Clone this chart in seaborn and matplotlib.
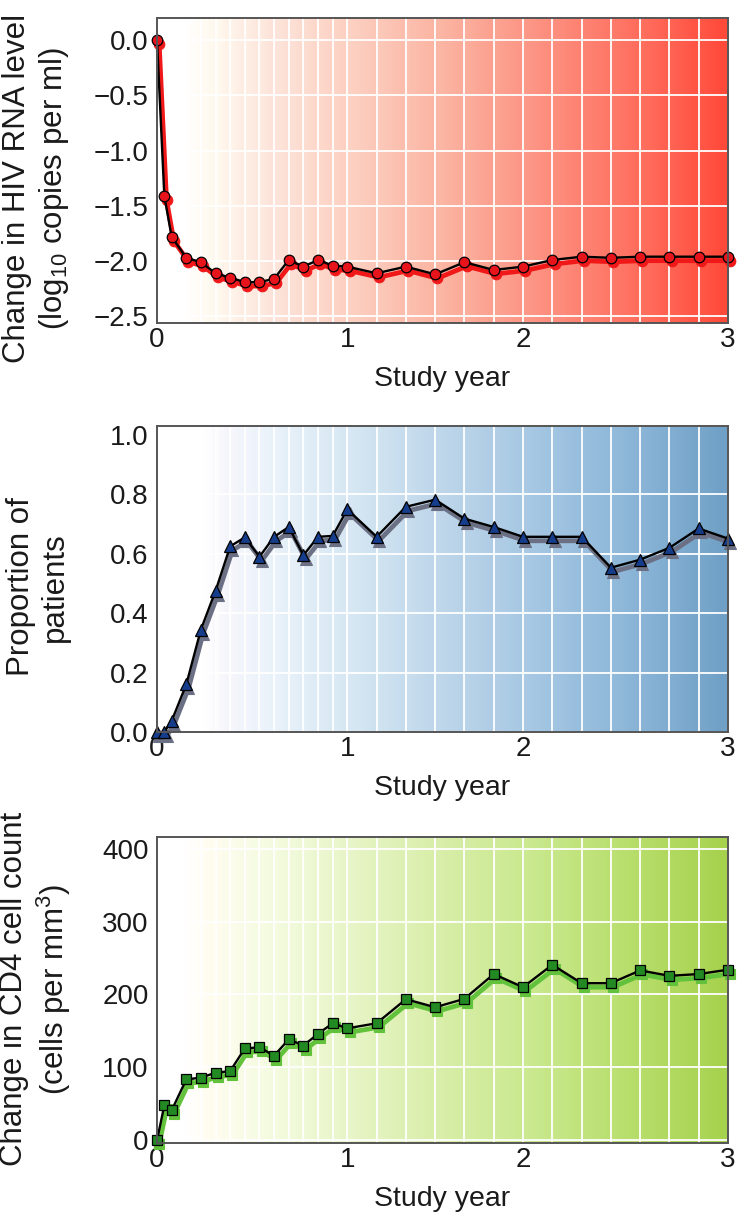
import numpy as np
import matplotlib
matplotlib.use("Agg")
import matplotlib.pyplot as plt
import matplotlib.transforms as mtransforms
from matplotlib.colors import LinearSegmentedColormap
import seaborn as sns
import pandas as pd

# ---------------- data ----------------
weeks = [0, 2, 4, 8, 12, 16, 20, 24, 28, 32, 36, 40, 44, 48, 52,
         60, 68, 76, 84, 92, 100, 108, 116, 124, 132, 140, 148, 156]
hiv_change = [0.0, -1.41, -1.78, -1.97, -2.01, -2.11, -2.15, -2.19, -2.19, -2.16,
              -1.99, -2.05, -1.99, -2.04, -2.05, -2.11, -2.05, -2.12, -2.01, -2.08,
              -2.05, -1.99, -1.96, -1.97, -1.96, -1.96, -1.96, -1.96]
proportion = [0.0, 0.0, 0.037, 0.16, 0.345, 0.475, 0.625, 0.655, 0.59, 0.657,
              0.69, 0.595, 0.657, 0.66, 0.749, 0.657, 0.758, 0.782, 0.718, 0.69,
              0.657, 0.657, 0.657, 0.553, 0.58, 0.62, 0.685, 0.651]
cd4_change = [0, 48, 41, 83.5, 86, 92.6, 95, 126, 127.5, 116, 138.5, 130, 146,
              160.5, 153.6, 160.5, 193.5, 182.5, 194, 228, 210, 240.7, 215.5,
              215.5, 233, 225.6, 228, 234]
xtick_labels = ["0", "1", "2", "3"]
xtick_weeks = [0, 52, 100, 156]
xlabel_text = "Study year"
ylabel_hiv = "Change in HIV RNA level\n(log$_{\\mathregular{10}}$ copies per ml)"
ylabel_prop = "Proportion of\npatients"
ylabel_cd4 = "Change in CD4 cell count\n(cells per mm$^{\\mathregular{3}}$)"

# ---------------- style ----------------
sns.set_theme(style="white")
plt.rcParams["font.family"] = ["Liberation Sans", "DejaVu Sans"]
plt.rcParams["mathtext.fontset"] = "custom"
plt.rcParams["mathtext.rm"] = "Liberation Sans"
plt.rcParams["mathtext.it"] = "Liberation Sans:italic"
plt.rcParams["mathtext.bf"] = "Liberation Sans:bold"

fig = plt.figure(figsize=(7.37, 12.17), dpi=100)
W, H = 737, 1217


def add_ax(left, top, right, bottom):
    return fig.add_axes([left / W, 1 - bottom / H, (right - left) / W, (bottom - top) / H])


ax1 = add_ax(157, 18, 728, 323)
ax2 = add_ax(157, 426, 728, 732)
ax3 = add_ax(157, 837, 728, 1143)

df = pd.DataFrame({"week": weeks, "hiv": hiv_change, "prop": proportion, "cd4": cd4_change})

red_cmap = LinearSegmentedColormap.from_list("r", [
    (0.0, "#ffffff"), (0.05, "#ffffff"), (0.09, "#fffaf0"), (0.2, "#fde4da"),
    (0.35, "#fccebf"), (0.5, "#fbb4a2"), (0.67, "#fd9282"), (0.83, "#ff7262"),
    (1.0, "#ff4a3a")])
blue_cmap = LinearSegmentedColormap.from_list("b", [
    (0.0, "#ffffff"), (0.08, "#ffffff"), (0.12, "#f6f6fc"), (0.2, "#eaf2fa"),
    (0.35, "#d4e6f2"), (0.5, "#bed6ea"), (0.67, "#a4c6e2"), (0.83, "#8cb6d8"),
    (1.0, "#70a0c6")])
green_cmap = LinearSegmentedColormap.from_list("g", [
    (0.0, "#ffffff"), (0.05, "#ffffff"), (0.09, "#fffdf0"), (0.2, "#f4fbe0"),
    (0.35, "#e6f4c4"), (0.5, "#d8eea8"), (0.67, "#c8e88c"), (0.83, "#b8de6c"),
    (1.0, "#a6d24e")])


def panel(ax, col, ylim, yticks, ylabel, label_xy, cmap, marker, mcolor,
          shadow_color, ms, hide_top_grid=False):
    xs = np.linspace(0, 156, 1200)
    t = xs / 156.0
    # subtle banding between the data columns
    grid_weeks = np.array([w for w in weeks if w >= 12])
    band = np.zeros_like(xs)
    for a, b in zip(grid_weeks[:-1], grid_weeks[1:]):
        m = (xs >= a) & (xs < b)
        band[m] = 0.025 * ((xs[m] - a) / (b - a) - 0.5)
    grad = np.clip(t + band * (t > 0.1), 0, 1)
    ax.imshow(grad[np.newaxis, :], extent=[0, 156, ylim[0], ylim[1]],
              aspect="auto", cmap=cmap, vmin=0, vmax=1, zorder=0,
              interpolation="bilinear")

    shadow = ax.transData + mtransforms.ScaledTranslation(0.022, -0.04, fig.dpi_scale_trans)
    sns.lineplot(data=df, x="week", y=col, ax=ax, color=shadow_color, lw=3.4,
                 marker=marker, ms=ms, mfc=shadow_color, mec=shadow_color, mew=0.8,
                 transform=shadow, clip_on=False, zorder=3, estimator=None,
                 errorbar=None, sort=False)
    sns.lineplot(data=df, x="week", y=col, ax=ax, color="black", lw=1.7,
                 marker=marker, ms=ms, mfc=mcolor, mec="black", mew=0.9,
                 clip_on=False, zorder=4, estimator=None, errorbar=None, sort=False)

    ax.set_xlim(0, 156)
    ax.set_ylim(*ylim)
    ax.set_xticks(xtick_weeks)
    ax.set_xticklabels(xtick_labels)
    ax.set_xticks(grid_weeks, minor=True)
    ax.set_yticks(yticks)
    ax.set_axisbelow(True)
    ax.grid(which="both", axis="x", color="white", lw=1.3)
    ax.grid(which="major", axis="y", color="white", lw=1.3)
    if hide_top_grid:
        ax.get_ygridlines()[-1].set_visible(False)
    ax.tick_params(which="both", length=0)
    ax.tick_params(axis="y", labelsize=20, pad=6, labelcolor="#1a1a1a")
    ax.tick_params(axis="x", labelsize=20, pad=3, labelcolor="#1a1a1a")
    ax.set_xlabel(xlabel_text, fontsize=20.5, labelpad=9, color="#1a1a1a")
    ax.set_ylabel(ylabel, fontsize=22.5, linespacing=1.2, color="#1a1a1a")
    ax.yaxis.set_label_coords(*label_xy)
    for s in ax.spines.values():
        s.set_color("#555555")
        s.set_linewidth(1.4)
        s.set_zorder(5)


panel(ax1, "hiv", (-2.56, 0.2), [0.0, -0.5, -1.0, -1.5, -2.0, -2.5], ylabel_hiv,
      (-0.150, 0.44), red_cmap, "o", "#e8141c", "#f01818", 7.6)
panel(ax2, "prop", (0.0, 1.03), [0.0, 0.2, 0.4, 0.6, 0.8, 1.0], ylabel_prop,
      (-0.152, 0.474), blue_cmap, "^", "#163d8c", "#6c7084", 8.6, hide_top_grid=True)
panel(ax3, "cd4", (-3.7, 416), [0, 100, 200, 300, 400], ylabel_cd4,
      (-0.147, 0.503), green_cmap, "s", "#238a23", "#62c23c", 7.6)

fig.savefig("out.png", dpi=100)
